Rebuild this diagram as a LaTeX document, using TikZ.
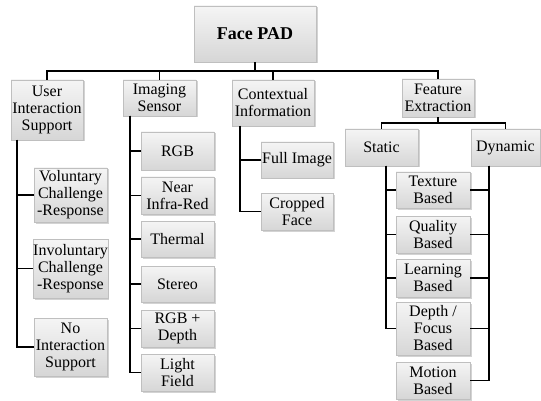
\documentclass[tikz,border=0pt]{standalone}
\usepackage{fontspec}
\setmainfont{Liberation Serif}
\usepackage{tikz}
\usetikzlibrary{shadows}

\tikzset{
  box/.style={draw=gray!50, top color=gray!8, bottom color=gray!32,
    drop shadow={shadow xshift=1.5pt, shadow yshift=-1.5pt, opacity=0.35},
    align=center, inner sep=0pt, font=\fontsize{16}{17}\selectfont},
  link/.style={line width=1.6pt, black},
}

\begin{document}
\begin{tikzpicture}[x=1pt,y=-1pt]

\useasboundingbox (0,0) rectangle (541,401);

% Root
\node[box, minimum width=122pt, minimum height=56pt, font=\fontsize{18}{19}\selectfont\bfseries] (pad) at (255,34) {Face PAD};

% Main branches
\node[box, minimum width=72pt, minimum height=60pt] (uis) at (47,110) {User\\Interaction\\Support};
\node[box, minimum width=73pt, minimum height=36pt] (img) at (159.5,98) {Imaging\\Sensor};
\node[box, minimum width=82pt, minimum height=46pt] (ctx) at (273,103) {Contextual\\Information};
\node[box, minimum width=72pt, minimum height=38pt] (fex) at (438,98) {Feature\\Extraction};

% Bus under the root
\coordinate (bus) at (255,71);
\draw[link] (pad.south) -- (bus);
\draw[link] (bus) -| (uis.north);
\draw[link] (bus) -| (img.north);
\draw[link] (bus) -| (ctx.north);
\draw[link] (bus) -| (fex.north);

% User interaction support
\node[box, minimum width=73pt, minimum height=54pt] (vol) at (70.5,195) {Voluntary\\Challenge\\-Response};
\node[box, minimum width=73pt, minimum height=59pt] (invol) at (70.5,268.5) {Involuntary\\Challenge\\-Response};
\node[box, minimum width=73pt, minimum height=58pt] (noint) at (70.5,347) {No\\Interaction\\Support};

\coordinate (uisL) at (17,140);
\foreach \n in {vol,invol,noint}
  \draw[link] (uisL) |- (\n.west);

% Imaging sensor
\node[box, minimum width=73pt, minimum height=38pt] (rgb) at (177.5,151) {RGB};
\node[box, minimum width=73pt, minimum height=37pt] (nir) at (177.5,195.5) {Near\\Infra-Red};
\node[box, minimum width=73pt, minimum height=36pt] (therm) at (177.5,239) {Thermal};
\node[box, minimum width=73pt, minimum height=36pt] (stereo) at (177.5,284) {Stereo};
\node[box, minimum width=73pt, minimum height=37pt] (rgbd) at (177.5,328.5) {RGB +\\Depth};
\node[box, minimum width=73pt, minimum height=37pt] (light) at (177.5,372.5) {Light\\Field};

\coordinate (imgL) at (130,116);
\foreach \n in {rgb,nir,therm,stereo,rgbd,light}
  \draw[link] (imgL) |- (\n.west);

% Contextual information
\node[box, minimum width=72pt, minimum height=36pt] (full) at (297,160) {Full Image};
\node[box, minimum width=72pt, minimum height=37pt] (crop) at (297,211.5) {Cropped\\Face};

\coordinate (ctxL) at (240,126);
\foreach \n in {full,crop}
  \draw[link] (ctxL) |- (\n.west);

% Feature extraction
\node[box, minimum width=73pt, minimum height=37pt] (stat) at (381.5,147.5) {Static};
\node[box, minimum width=69pt, minimum height=37pt] (dyn) at (505.5,147.5) {Dynamic};

\coordinate (fexB) at (438,123);
\draw[link] (fex.south) -- (fexB);
\draw[link] (fexB) -| (stat.north);
\draw[link] (fexB) -| (dyn.north);

\node[box, minimum width=74pt, minimum height=36pt] (tex) at (433,190) {Texture\\Based};
\node[box, minimum width=74pt, minimum height=37pt] (qual) at (433,234.5) {Quality\\Based};
\node[box, minimum width=74pt, minimum height=38pt] (learn) at (433,278) {Learning\\Based};
\node[box, minimum width=74pt, minimum height=53pt] (depth) at (433,328.5) {Depth /\\Focus\\Based};
\node[box, minimum width=74pt, minimum height=37pt] (motion) at (433,380.5) {Motion\\Based};

\coordinate (statL) at (386,166);
\foreach \n in {tex,qual,learn,depth}
  \draw[link] (statL) |- (\n.west);

\coordinate (dynR) at (489,166);
\foreach \n in {tex,qual,learn,depth,motion}
  \draw[link] (dynR) |- (\n.east);

\end{tikzpicture}
\end{document}
